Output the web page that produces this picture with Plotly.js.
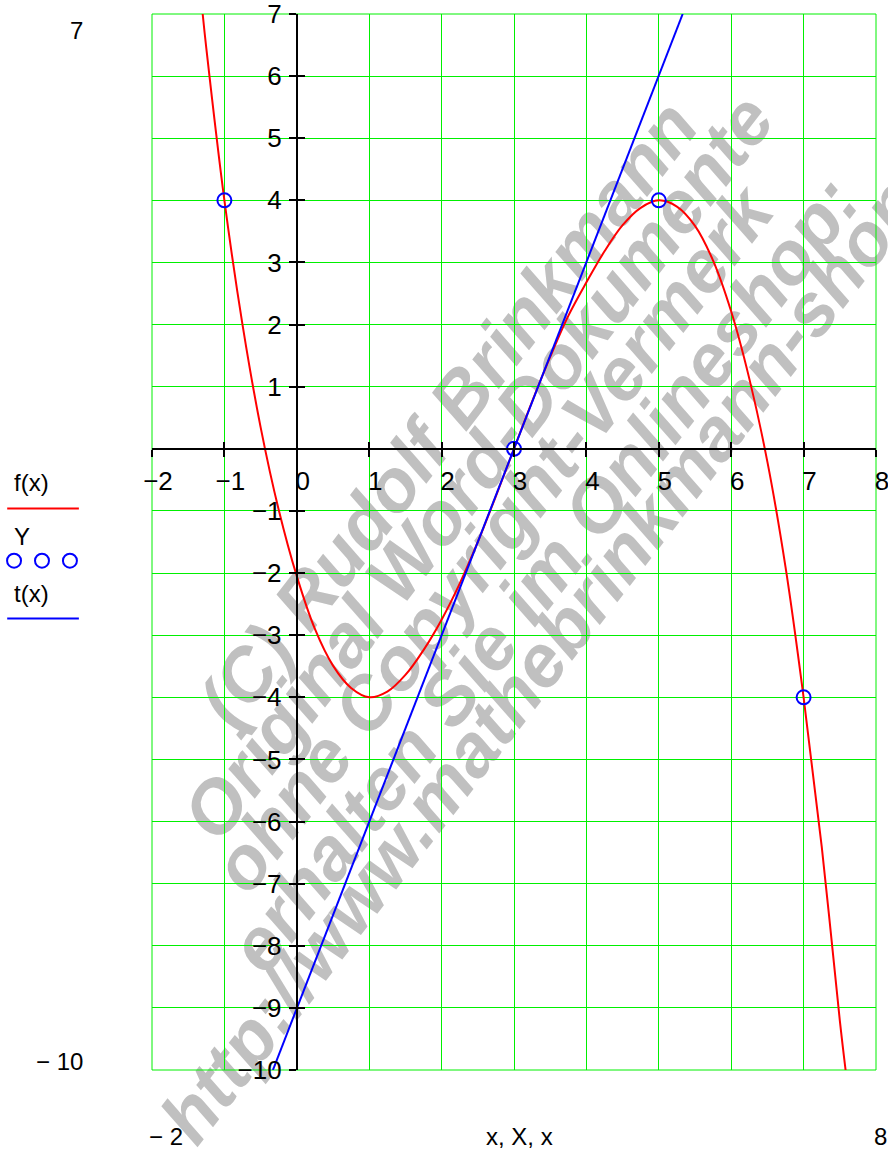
<!DOCTYPE html>
<html>
<head>
<meta charset="utf-8">
<script src="https://cdn.plot.ly/plotly-3.0.1.min.js"></script>
<style>
  html, body { margin:0; padding:0; background:#ffffff; }
  #wm { position:absolute; left:0; top:0; width:888px; height:1151px; overflow:hidden; z-index:0; }
  #wm span { position:absolute; font-family:"Liberation Sans", Arial, sans-serif; font-weight:bold; font-style:italic;
             font-size:74px; line-height:74px; color:#c0c0c0; white-space:nowrap;
             transform-origin:0 50%; transform:rotate(-52.4deg); }
  #plot { position:absolute; left:0; top:0; width:888px; height:1151px; z-index:1; }
</style>
</head>
<body>
<div id="wm"></div>
<div id="plot"></div>
<script>
// ---- data ----
const fX = [-1.30, -1.25, -1.0, -0.75, -0.5, -0.25, 0.0, 0.25, 0.5, 0.75, 1.0, 1.25, 1.5, 1.75,
            2.0, 2.25, 2.5, 2.75, 3.0, 3.25, 3.5, 3.75, 4.0, 4.25, 4.5, 4.75, 5.0, 5.25, 5.5, 5.75,
            6.0, 6.25, 6.5, 6.75, 7.0, 7.25, 7.5, 7.58];
const fY = [7.0, 6.45, 4.0, 2.0, 0.35, -0.98, -2.05, -2.9, -3.49, -3.85, -4.0, -3.91, -3.64, -3.24,
            -2.75, -2.17, -1.5, -0.76, 0.0, 0.76, 1.48, 2.14, 2.68, 3.18, 3.6, 3.88, 4.0, 3.9, 3.59, 3.03,
            2.21, 1.13, -0.21, -1.9, -4.0, -6.4, -9.2, -10.0];
const dataX = [-1, 3, 5, 7];
const dataY = [4, 0, 4, -4];
const tX = [-0.33, 5.33];
const tY = [-10, 7];
const xRange = [-2, 8];
const yRange = [-10, 7];
const xTickVals = [-2, -1, 0, 1, 2, 3, 4, 5, 6, 7, 8];
const yTickVals = [-10, -9, -8, -7, -6, -5, -4, -3, -2, -1, 0, 1, 2, 3, 4, 5, 6, 7];
const yTickText = ['−10','−9','−8','−7','−6','−5','−4','−3','−2','−1','','1','2','3','4','5','6','7'];
const legendNames = ['f(x)', 'Y', 't(x)'];
const xAxisLabel = 'x, X, x';
const watermark = ['(C) Rudolf Brinkmann', 'Original Word-Dokumente', 'ohne Copyright-Vermerk',
                   'erhalten Sie im Onlineshop:', 'http://www.mathebrinkmann-shop.de'];

// ---- watermark (behind the chart) ----
const wmPos = [[215, 717], [199, 830], [229, 882], [246, 962], [177, 1133]];
const wm = document.getElementById('wm');
watermark.forEach((t, i) => {
  const s = document.createElement('span');
  s.textContent = t;
  s.style.left = wmPos[i][0] + 'px';
  s.style.top = (wmPos[i][1] - 37) + 'px';
  wm.appendChild(s);
});

const RED = '#ff0000', BLUE = '#0000ff', GRID = '#00f000';
const FONT = 'Liberation Sans, Arial, sans-serif';
const xPos = (0 - yRange[0]) / (yRange[1] - yRange[0]);
const yPos = (0 - xRange[0]) / (xRange[1] - xRange[0]);

const traces = [
  { x: fX, y: fY, mode: 'lines', line: { color: RED, width: 2, shape: 'spline', smoothing: 1 }, name: legendNames[0], hoverinfo: 'skip' },
  { x: tX, y: tY, mode: 'lines', line: { color: BLUE, width: 2 }, name: legendNames[2], hoverinfo: 'skip' },
  { x: dataX, y: dataY, mode: 'markers', marker: { symbol: 'circle-open', size: 14, color: BLUE, line: { width: 2, color: BLUE } }, name: legendNames[1], hoverinfo: 'skip' },
  { x: [], y: [], xaxis: 'x2', yaxis: 'y2', mode: 'markers', showlegend: false, hoverinfo: 'skip' }
];

const axisCommon = { showgrid: false, zeroline: false, fixedrange: true };
const layout = {
  width: 888, height: 1151,
  margin: { l: 152, r: 12, t: 14, b: 81 },
  paper_bgcolor: 'rgba(0,0,0,0)', plot_bgcolor: 'rgba(0,0,0,0)',
  showlegend: false,
  font: { family: FONT, size: 26, color: '#000' },
  xaxis: {
    range: xRange, tickvals: xTickVals, showgrid: true, gridcolor: GRID, gridwidth: 1, zeroline: false,
    anchor: 'free', position: xPos, showline: true, linecolor: '#000', linewidth: 2,
    ticks: 'outside', ticklen: 7, tickwidth: 2, tickcolor: '#000', ticklabelshift: 6, ticklabelstandoff: 2,
    ticklabeloverflow: 'allow', tickfont: { family: FONT, size: 26, color: '#000' }, fixedrange: true
  },
  yaxis: {
    range: yRange, tickvals: yTickVals, ticktext: yTickText, showgrid: true, gridcolor: GRID, gridwidth: 1, zeroline: false,
    anchor: 'free', position: yPos, showline: true, linecolor: '#000', linewidth: 2,
    ticks: 'outside', ticklen: 7, tickwidth: 2, tickcolor: '#000', ticklabelstandoff: 2,
    ticklabeloverflow: 'allow', tickfont: { family: FONT, size: 26, color: '#000' }, fixedrange: true
  },
  xaxis2: Object.assign({}, axisCommon, {
    range: xRange, tickvals: xTickVals, overlaying: 'x', anchor: 'free', position: xPos,
    ticks: 'inside', ticklen: 7, tickwidth: 2, tickcolor: '#000', showticklabels: false, showline: false
  }),
  yaxis2: Object.assign({}, axisCommon, {
    range: yRange, tickvals: yTickVals, overlaying: 'y', anchor: 'free', position: yPos,
    ticks: 'inside', ticklen: 7, tickwidth: 2, tickcolor: '#000', showticklabels: false, showline: false
  }),
  shapes: [
    { type: 'rect', xref: 'paper', yref: 'paper', x0: 0, x1: 1, y0: 0, y1: 1, line: { color: GRID, width: 1 }, layer: 'below' },
    // legend samples (left margin)
    { type: 'line', xref: 'paper', yref: 'paper', x0: -0.200, x1: -0.101, y0: 0.5317, y1: 0.5317, line: { color: RED, width: 2 } },
    { type: 'circle', xref: 'paper', yref: 'paper', x0: -0.2002, x1: -0.1809, y0: 0.4757, y1: 0.4889, line: { color: BLUE, width: 2 } },
    { type: 'circle', xref: 'paper', yref: 'paper', x0: -0.1616, x1: -0.1423, y0: 0.4757, y1: 0.4889, line: { color: BLUE, width: 2 } },
    { type: 'circle', xref: 'paper', yref: 'paper', x0: -0.1230, x1: -0.1037, y0: 0.4757, y1: 0.4889, line: { color: BLUE, width: 2 } },
    { type: 'line', xref: 'paper', yref: 'paper', x0: -0.200, x1: -0.101, y0: 0.4275, y1: 0.4275, line: { color: BLUE, width: 2 } }
  ],
  annotations: [
    { text: legendNames[0], xref: 'paper', yref: 'paper', x: -0.193, y: 0.556, xanchor: 'left', yanchor: 'middle', showarrow: false, font: { family: FONT, size: 24 } },
    { text: legendNames[1], xref: 'paper', yref: 'paper', x: -0.193, y: 0.505, xanchor: 'left', yanchor: 'middle', showarrow: false, font: { family: FONT, size: 24 } },
    { text: legendNames[2], xref: 'paper', yref: 'paper', x: -0.193, y: 0.4515, xanchor: 'left', yanchor: 'middle', showarrow: false, font: { family: FONT, size: 24 } },
    { text: String(yRange[1]), xref: 'paper', yref: 'paper', x: -0.093, y: 0.984, xanchor: 'right', yanchor: 'middle', showarrow: false, font: { family: FONT, size: 24 } },
    { text: '− ' + Math.abs(yRange[0]), xref: 'paper', yref: 'paper', x: -0.093, y: 0.0085, xanchor: 'right', yanchor: 'middle', showarrow: false, font: { family: FONT, size: 24 } },
    { text: '− ' + Math.abs(xRange[0]), xref: 'paper', yref: 'paper', x: 0.045, y: -0.063, xanchor: 'right', yanchor: 'middle', showarrow: false, font: { family: FONT, size: 24 } },
    { text: xAxisLabel, xref: 'paper', yref: 'paper', x: 0.508, y: -0.063, xanchor: 'center', yanchor: 'middle', showarrow: false, font: { family: FONT, size: 24 } },
    { text: String(xRange[1]), xref: 'paper', yref: 'paper', x: 0.995, y: -0.063, xanchor: 'left', yanchor: 'middle', showarrow: false, font: { family: FONT, size: 24 } }
  ]
};

Plotly.newPlot('plot', traces, layout, { staticPlot: true, displayModeBar: false });
</script>
</body>
</html>
